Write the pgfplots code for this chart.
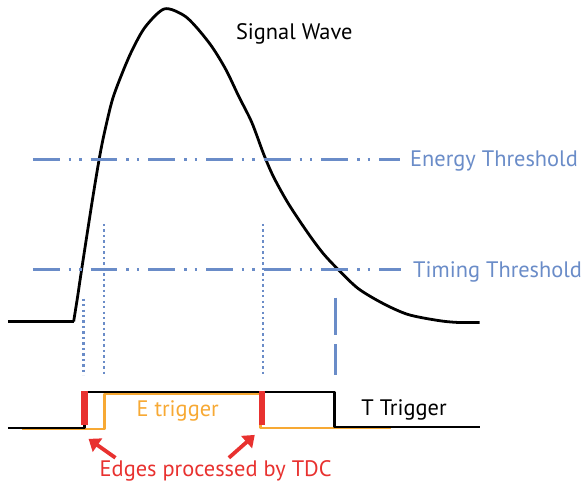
\documentclass[border=0pt]{standalone}
\usepackage{pgfplots}
\pgfplotsset{compat=1.18}
\usepackage{fontspec}
\setmainfont{PT Sans}
\usetikzlibrary{arrows.meta}

\definecolor{thrblue}{HTML}{6A8CC8}
\definecolor{etrig}{HTML}{F7A934}
\definecolor{tdcred}{HTML}{E8312F}

\tikzset{lbl/.style={anchor=west, inner sep=0pt, font=\fontsize{22.5}{26}\selectfont}}

\begin{document}
\begin{tikzpicture}
\begin{axis}[
    scale only axis,
    width=582pt, height=487pt,
    xmin=0, xmax=582, ymin=0, ymax=487,
    y dir=reverse,
    axis lines=none,
    clip=false,
    every axis plot/.append style={line join=round},
]
% keep the whole frame as the page
\path (rel axis cs:0,0) rectangle (rel axis cs:1,1);

% signal wave
\addplot[black, line width=2.8pt] coordinates {(8,323) (74,323)};
\addplot[black, line width=2.8pt, smooth, tension=0.5] coordinates {
    (74,323) (78,298) (82,271) (93,200) (100,158) (105,133) (113,100)
    (123,73) (133,50) (146,27) (165,9) (184,15) (197,27)
    (213,47) (227,70) (240,97) (253,123) (265,155) (275,178) (290,205)
    (310,235) (325,255) (340,271) (360,290) (385,305) (410,316)
    (440,322) (460,324) (482,324)
};

% thresholds
\addplot[thrblue, line width=2.8pt,
    dash pattern=on 27pt off 9pt on 2.5pt off 8pt on 2.5pt off 9pt]
    coordinates {(33,160) (402,160)};
\addplot[thrblue, line width=2.8pt,
    dash pattern=on 27pt off 9pt on 2.5pt off 8pt on 2.5pt off 9pt]
    coordinates {(33,271) (403,271)};

% vertical guides
\addplot[thrblue, line width=2.4pt, dash pattern=on 2.4pt off 3.1pt]
    coordinates {(84,300) (84,377)};
\addplot[thrblue, line width=2.4pt, dash pattern=on 2.4pt off 3.1pt]
    coordinates {(104.5,225) (104.5,377)};
\addplot[thrblue, line width=2.4pt, dash pattern=on 2.4pt off 3.1pt]
    coordinates {(264,225) (264,377)};
\addplot[thrblue, line width=2.6pt, dash pattern=on 38pt off 9pt on 40pt]
    coordinates {(337,299) (337,377)};

% E trigger (orange)
\addplot[etrig, line width=2.6pt] coordinates {
    (22,431) (105,431) (105,396) (262,396) (262,430) (393,430)};
% T trigger (black)
\addplot[black, line width=2.6pt] coordinates {
    (8,430) (85,430) (85,394) (336,394) (336,429) (482,429)};

% TDC edges
\addplot[tdcred, line width=6.5pt] coordinates {(85,393) (85,427)};
\addplot[tdcred, line width=6.5pt] coordinates {(263,393) (263,427)};

% arrows
\addplot[tdcred, line width=3.8pt, -{Triangle[length=11pt,width=16pt]}]
    coordinates {(116,460) (89,441)};
\addplot[tdcred, line width=3.8pt, -{Triangle[length=11pt,width=16pt]}]
    coordinates {(230,460) (256,437)};

% labels
\node[lbl] at (axis cs:237,34) {Signal Wave};
\node[lbl, text=thrblue] at (axis cs:412,162) {Energy Threshold};
\node[lbl, text=thrblue] at (axis cs:415,273) {Timing Threshold};
\node[lbl, text=etrig] at (axis cs:137,413) {E trigger};
\node[lbl] at (axis cs:363,412) {T Trigger};
\node[lbl, text=tdcred] at (axis cs:100,473) {Edges processed by TDC};

\end{axis}
\end{tikzpicture}
\end{document}
